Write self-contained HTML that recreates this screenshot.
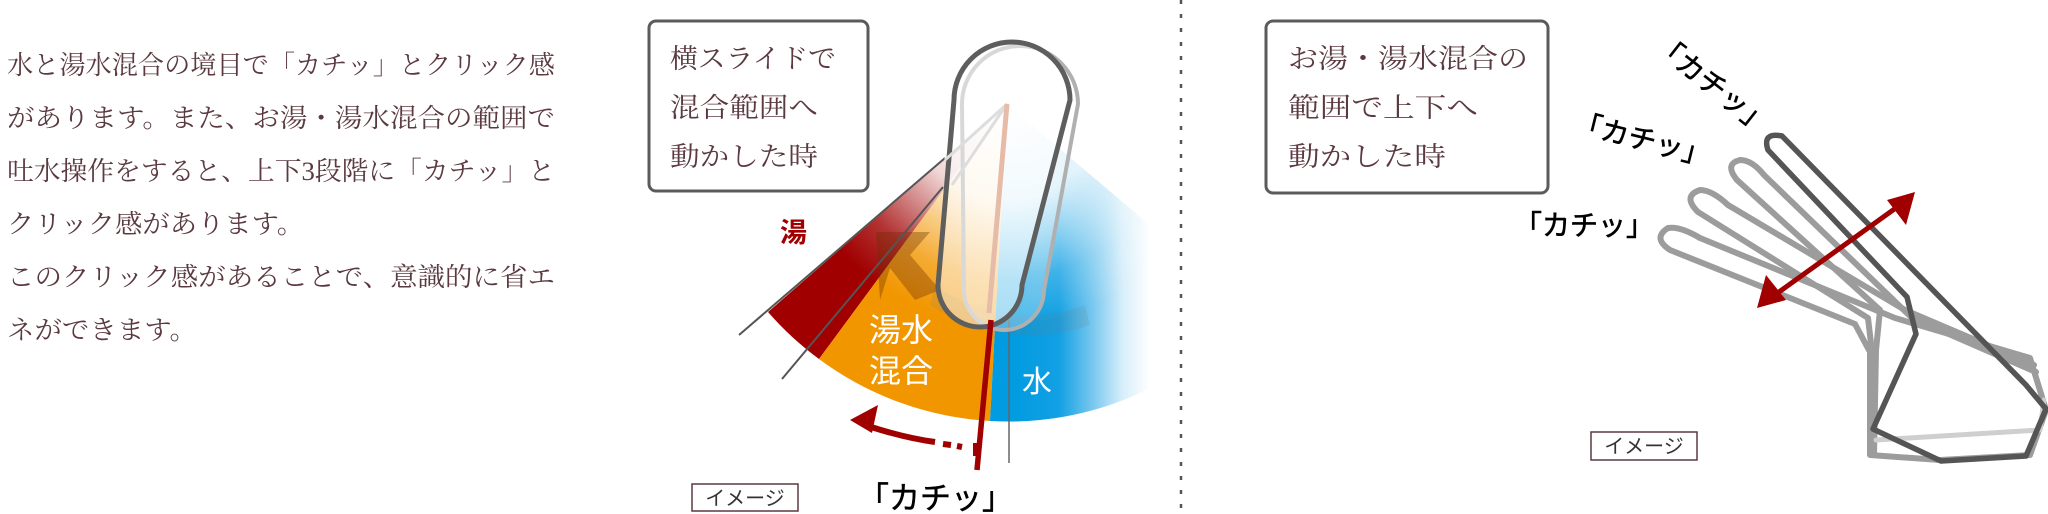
<!DOCTYPE html>
<html><head><meta charset="utf-8"><style>
html,body{margin:0;padding:0;background:#fff;}
svg{display:block;}
.s{font-family:"Liberation Serif","Noto Serif CJK SC",serif;fill:#5a3a40;}
.g{font-family:"Liberation Sans","Noto Sans CJK JP",sans-serif;}
</style></head><body>
<svg width="2048" height="514" viewBox="0 0 2048 514" xmlns="http://www.w3.org/2000/svg">
<defs>
<radialGradient id="fade" cx="1007" cy="104" r="317" gradientUnits="userSpaceOnUse">
<stop offset="0" stop-color="#fff" stop-opacity="1"/>
<stop offset="0.3" stop-color="#fff" stop-opacity="0.85"/>
<stop offset="0.55" stop-color="#fff" stop-opacity="0.2"/>
<stop offset="0.7" stop-color="#fff" stop-opacity="0"/>
</radialGradient>
<linearGradient id="blue" x1="1010" y1="0" x2="1150" y2="0" gradientUnits="userSpaceOnUse">
<stop offset="0" stop-color="#009be0"/>
<stop offset="0.35" stop-color="#12a0e3"/>
<stop offset="0.6" stop-color="#7cc9ef"/>
<stop offset="0.8" stop-color="#d6eefa"/>
<stop offset="1" stop-color="#fff"/>
</linearGradient>
</defs>

<g class="s" font-size="26">
<text x="7" y="74" textLength="548" lengthAdjust="spacingAndGlyphs">水と湯水混合の境目で「カチッ」とクリック感</text>
<text x="7" y="127" textLength="548" lengthAdjust="spacingAndGlyphs">があります。また、お湯・湯水混合の範囲で</text>
<text x="7" y="180" textLength="548" lengthAdjust="spacingAndGlyphs">吐水操作をすると、上下3段階に「カチッ」と</text>
<text x="7" y="233" textLength="297" lengthAdjust="spacingAndGlyphs">クリック感があります。</text>
<text x="7" y="286" textLength="548" lengthAdjust="spacingAndGlyphs">このクリック感があることで、意識的に省エ</text>
<text x="7" y="339" textLength="190" lengthAdjust="spacingAndGlyphs">ネができます。</text>
</g>

<rect x="649" y="21" width="219" height="170" rx="7" fill="#fff" stroke="#5b5b5b" stroke-width="3"/>
<g class="s" font-size="27">
<text x="670" y="68" textLength="166" lengthAdjust="spacingAndGlyphs">横スライドで</text>
<text x="670" y="117" textLength="148" lengthAdjust="spacingAndGlyphs">混合範囲へ</text>
<text x="670" y="166" textLength="148" lengthAdjust="spacingAndGlyphs">動かした時</text>
</g>

<path d="M1007,104 L768,312 A317,317 0 0 0 819,359 Z" fill="#a00000"/>
<path d="M1007,104 L819,359 A317,317 0 0 0 990,421 Z" fill="#f29600"/>
<path d="M1007,104 L990,421 A317,317 0 0 0 1250,310 Z" fill="url(#blue)"/>
<path d="M1007,104 L700,370 L1300,450 L1300,50 Z" fill="url(#fade)"/>
<path d="M935,285 A160,160 0 0 0 1085,305 L1090,325 A180,180 0 0 1 930,305 Z" fill="#777" opacity="0.15"/>
<path d="M876,232 L930,232 L910,255 L940,290 L915,300 L890,268 L880,300 Z" fill="#6a2a00" opacity="0.35"/>

<line x1="739" y1="335" x2="945" y2="158" stroke="#555" stroke-width="2"/>
<line x1="782" y1="379" x2="943" y2="187" stroke="#555" stroke-width="2"/>
<line x1="1009" y1="320" x2="1009" y2="463" stroke="#666" stroke-width="1.5"/>

<path d="M962,104 A58,58 0 0 1 1078,104 L1044,290 A40,40 0 0 1 964,290 Z" fill="#fff" fill-opacity="0.3" stroke="#b0b0b0" stroke-width="4"/>
<path d="M954,100 A58,58 0 0 1 1070,100 L1022,285 A42,42 0 0 1 938,285 Z" fill="#fff" fill-opacity="0.5" stroke="#5e5e5e" stroke-width="5"/>
<line x1="1007" y1="104" x2="945" y2="160" stroke="#ddd" stroke-width="3"/>
<line x1="1007" y1="104" x2="952" y2="185" stroke="#ddd" stroke-width="3"/>
<line x1="1007" y1="104" x2="989" y2="313" stroke="#e6bca8" stroke-width="5"/>

<line x1="991" y1="320" x2="977" y2="470" stroke="#a00000" stroke-width="5.5"/>
<path d="M935,442 Q905,438 868,426" fill="none" stroke="#a00000" stroke-width="6"/>
<line x1="943" y1="444" x2="951" y2="445" stroke="#a00000" stroke-width="6"/>
<line x1="957" y1="446" x2="962" y2="447" stroke="#a00000" stroke-width="6"/>
<line x1="975" y1="443" x2="975" y2="456" stroke="#a00000" stroke-width="4"/>
<path d="M850,420 L878,405 L872,433 Z" fill="#a00000"/>

<text x="780" y="242" class="g" font-size="27" font-weight="bold" fill="#a00000">湯</text>
<g class="g" font-size="32" fill="#fff">
<text x="869" y="341">湯水</text>
<text x="869" y="382">混合</text>
<text x="1022" y="392" font-size="30">水</text>
</g>
<rect x="692" y="484" width="106" height="27" fill="#fff" stroke="#5a3a40" stroke-width="1.5"/>
<text x="745" y="505" text-anchor="middle" class="g" font-size="20" fill="#333">イメージ</text>
<text x="858" y="509" class="g" font-size="31" fill="#000" stroke="#000" stroke-width="0.5">「カチッ」</text>

<line x1="1181" y1="0" x2="1181" y2="514" stroke="#555" stroke-width="2.5" stroke-dasharray="4,10"/>

<rect x="1266" y="21" width="282" height="172" rx="7" fill="#fff" stroke="#5b5b5b" stroke-width="3"/>
<g class="s" font-size="27">
<text x="1288" y="68" textLength="240" lengthAdjust="spacingAndGlyphs">お湯・湯水混合の</text>
<text x="1288" y="117" textLength="190" lengthAdjust="spacingAndGlyphs">範囲で上下へ</text>
<text x="1288" y="166" textLength="158" lengthAdjust="spacingAndGlyphs">動かした時</text>
</g>

<g fill="none" stroke-linejoin="round" stroke-linecap="round">
<path d="M1870,455 L1870,352 L1855,324 L1670,250 Q1652,238 1668,228 Q1680,226 1700,238 L1895,318 L2030,358 L2046,410 L2030,455 L1940,460 Z" stroke="#9c9c9c" stroke-width="6"/>
<path d="M1872,455 L1872,352 L1868,318 L1698,212 Q1682,196 1700,190 Q1712,190 1728,205 L1905,310 L2034,365" stroke="#9c9c9c" stroke-width="6"/>
<path d="M1874,455 L1876,350 L1880,310 L1737,180 Q1724,164 1740,160 Q1752,160 1764,175 L1912,318 L2036,372" stroke="#9c9c9c" stroke-width="6"/>
<path d="M1876,440 L2040,430 L2044,400" stroke="#cfcfcf" stroke-width="5"/>
<path d="M1916,334 L1907,297 L1768,150 Q1762,132 1782,136 L2026,385 L2046,409 L2026,456 L1941,461 L1873,429 Z" stroke="#555" stroke-width="5.5"/>
</g>
<line x1="1900" y1="205" x2="1772" y2="297" stroke="#a00000" stroke-width="5"/>
<path d="M1915,192 L1906,225 L1887,200 Z" fill="#a00000"/>
<path d="M1757,308 L1766,275 L1786,300 Z" fill="#a00000"/>

<g class="g" font-size="28" fill="#000" stroke="#000" stroke-width="0.6">
<text x="1712" y="94" text-anchor="middle" transform="rotate(38 1712 85)">「カチッ」</text>
<text x="1642" y="149" text-anchor="middle" transform="rotate(14 1642 140)">「カチッ」</text>
<text x="1584" y="235" text-anchor="middle">「カチッ」</text>
</g>
<rect x="1591" y="432" width="106" height="28" fill="#fff" stroke="#5a3a40" stroke-width="1.5"/>
<text x="1644" y="453" text-anchor="middle" class="g" font-size="20" fill="#333">イメージ</text>
</svg>
</body></html>
